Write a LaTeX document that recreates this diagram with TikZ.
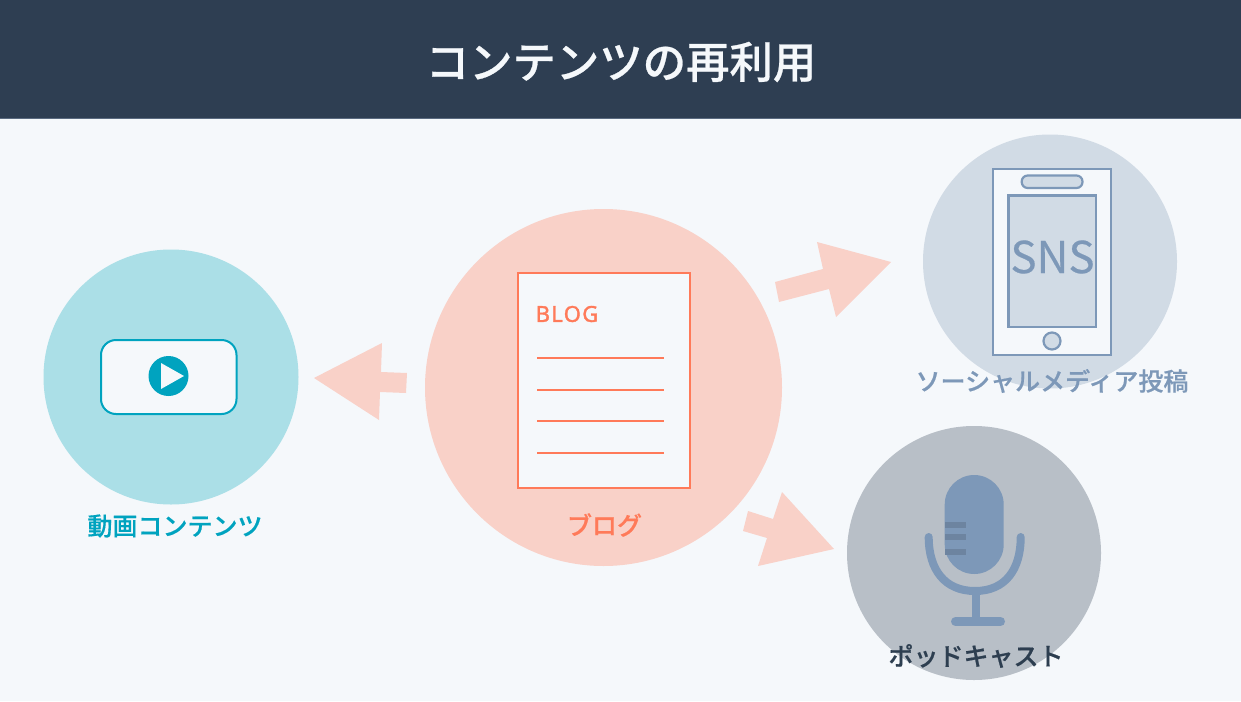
\documentclass[tikz,border=0pt]{standalone}
\usepackage{fontspec}
\setmainfont{Noto Sans CJK JP}
\newfontfamily\jpmed[FakeBold=0.6]{Noto Sans CJK JP Medium}
\newfontfamily\jplabel[FakeBold=0.5]{Noto Sans CJK JP Medium}
\newfontfamily\latn[FakeBold=0.3]{Noto Sans CJK JP}
\newfontfamily\blogf[LetterSpace=6,FakeBold=1.6]{Noto Sans}
\definecolor{bgc}{HTML}{F5F8FB}
\definecolor{headc}{HTML}{2E3E52}
\definecolor{headl}{HTML}{5A6A80}
\definecolor{videoc}{HTML}{ABDFE7}
\definecolor{teal}{HTML}{00A3BF}
\definecolor{blogc}{HTML}{F9D1C8}
\definecolor{orangec}{HTML}{FF7A59}
\definecolor{snsc}{HTML}{D1DBE5}
\definecolor{steel}{HTML}{7D98B8}
\definecolor{podc}{HTML}{B8BFC7}
\definecolor{stripe}{HTML}{6D84A0}
\definecolor{darkc}{HTML}{2D3E50}
\tikzset{
  disc/.style={circle,inner sep=0pt,outer sep=0pt,minimum size=#1},
  label text/.style={inner sep=0pt,font=\fontsize{25}{28}\selectfont\jplabel},
  block arrow/.style={fill=blogc,draw=none},
  ph/.style={draw=steel,line width=2.2pt},
  docline/.style={draw=orangec,line width=2pt}
}
\begin{document}
\begin{tikzpicture}[x=1pt,y=-1pt]
\useasboundingbox (0,0) rectangle (1241,701);
\fill[bgc] (0,0) rectangle (1241,701);
\fill[headc] (0,0) rectangle (1241,118.5);
\draw[headl,line width=1pt] (0,118.5) -- (1241,118.5);
\node[inner sep=0pt,text=bgc,font=\fontsize{43.4}{48}\selectfont\jpmed] (title) at (621,62) {コンテンツの再利用};
% circles
\node[disc=255pt,fill=videoc] (video) at (171,377) {};
\node[disc=357pt,fill=blogc] (blog) at (603.5,387.5) {};
\node[disc=254pt,fill=snsc] (sns) at (1050,261.5) {};
\node[disc=254pt,fill=podc] (pod) at (974,553) {};
% arrows
\fill[block arrow] (314,378) -- (382,343) -- (381,372) -- (407,373) -- (406,393) -- (380,392) -- (379,420) -- cycle;
\fill[block arrow] (891,262) -- (817,242) -- (823,269) -- (775,282) -- (779,302) -- (829,289) -- (836,317) -- cycle;
\fill[block arrow] (834,549) -- (782,492) -- (773,519) -- (748,511) -- (743,531) -- (767,538) -- (758,566) -- cycle;
% video
\draw[teal,line width=2pt,fill=bgc,rounded corners=15pt] (101,340) rectangle (236.5,414);
\node[disc=40pt,fill=teal] (play) at (168.5,376) {};
\fill[bgc] (161,363) -- (184,376) -- (161,389) -- cycle;
\node[label text,text=teal] (videolabel) at (175,526) {動画コンテンツ};
% blog
\draw[orangec,line width=2pt,fill=bgc] (517.6,273) rectangle (690,488);
\node[inner sep=0pt,anchor=west,text=orangec,font=\fontsize{22}{26}\selectfont\blogf] (blogtitle) at (535.5,314) {BLOG};
\draw[docline] (537,358) -- (664.2,358);
\draw[docline] (537,390) -- (664.2,390);
\draw[docline] (537,421) -- (664.2,421);
\draw[docline] (537,453) -- (664.2,453);
\node[label text,text=orangec] (bloglabel) at (604.5,525) {ブログ};
% sns
\draw[ph,fill=bgc] (992.6,169) rectangle (1111,355);
\draw[ph,fill=snsc] (1008.4,195.5) rectangle (1096,327);
\draw[ph,fill=snsc,rounded corners=6pt] (1021.7,175.5) rectangle (1082.5,188);
\node[disc=17pt,ph,fill=snsc] (homebtn) at (1052,341) {};
\node[inner sep=0pt,text=steel,font=\fontsize{44}{48}\selectfont\latn] (snstext) at (1052.5,257) {SNS};
\node[label text,text=steel] (snslabel) at (1052,381) {ソーシャルメディア投稿};
% mic
\fill[steel,rounded corners=29.5pt] (944.7,475) rectangle (1003.7,574);
\fill[stripe] (944.7,521.7) rectangle (966,528.3);
\fill[stripe] (944.7,534) rectangle (966,540);
\fill[stripe] (944.7,549) rectangle (966,555);
\draw[steel,line width=8pt,line cap=round] (928.7,537) .. controls (928.7,570) and (945,591) .. (975,591) .. controls (1005,591) and (1020.7,570) .. (1020.7,537);
\draw[steel,line width=8pt] (976,591) -- (976,621);
\draw[steel,line width=9pt,line cap=round] (955.5,621.5) -- (1000.5,621.5);
\node[label text,text=darkc] (podlabel) at (976,656) {ポッドキャスト};
\end{tikzpicture}
\end{document}
